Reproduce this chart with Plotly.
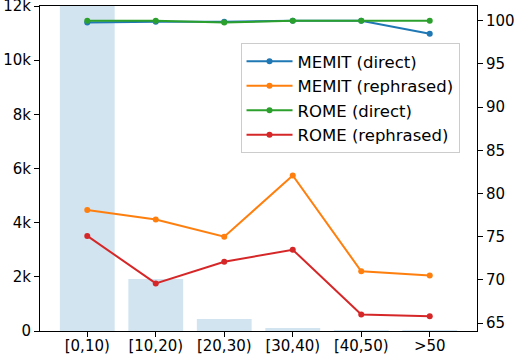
import plotly.graph_objects as go

FONT = "DejaVu Sans"

categories = ["[0,10)", "[10,20)", "[20,30)", "[30,40)", "[40,50)", ">50"]
counts = [13000, 1920, 440, 110, 30, 35]

memit_direct = [99.8, 99.9, 99.9, 100.0, 100.0, 98.5]
memit_rephrased = [78.1, 77.0, 75.0, 82.1, 71.0, 70.5]
rome_direct = [100.0, 100.0, 99.8, 100.0, 100.0, 100.0]
rome_rephrased = [75.1, 69.6, 72.1, 73.5, 66.0, 65.8]

series = [
    ("MEMIT (direct)", memit_direct, "#1f77b4"),
    ("MEMIT (rephrased)", memit_rephrased, "#ff7f0e"),
    ("ROME (direct)", rome_direct, "#2ca02c"),
    ("ROME (rephrased)", rome_rephrased, "#d62728"),
]

count_ticks = [0, 2000, 4000, 6000, 8000, 10000, 12000]
count_labels = ["0", "2k", "4k", "6k", "8k", "10k", "12k"]
score_ticks = [65, 70, 75, 80, 85, 90, 95, 100]

fig = go.Figure()

fig.add_trace(go.Bar(
    x=categories, y=counts,
    marker=dict(color="rgb(210,228,240)", line=dict(width=0)),
    width=0.8, showlegend=False, yaxis="y",
))

for name, vals, color in series:
    fig.add_trace(go.Scatter(
        x=categories, y=vals, name=name, yaxis="y2",
        mode="lines+markers",
        line=dict(color=color, width=2),
        marker=dict(color=color, size=6),
    ))

axis_style = dict(
    showgrid=False, zeroline=False, showline=True, linecolor="black",
    linewidth=1, ticks="outside", ticklen=5, tickcolor="black",
    automargin=False, ticklabeloverflow="allow",
    tickfont=dict(family=FONT, size=15, color="black"),
)

fig.update_layout(
    width=515, height=355,
    margin=dict(l=40, r=38, t=6, b=24),
    plot_bgcolor="white", paper_bgcolor="white",
    bargap=0.2,
    xaxis=dict(range=[-0.69, 5.69], mirror=True, ticklabelstandoff=-4,
               **axis_style),
    yaxis=dict(range=[0, 12000], tickvals=count_ticks, ticktext=count_labels,
               **axis_style),
    yaxis2=dict(range=[64.09, 101.71], tickvals=score_ticks, overlaying="y",
                side="right", **axis_style),
    legend=dict(
        x=0.96, y=0.886, xanchor="right", yanchor="top",
        bgcolor="rgba(255,255,255,0.8)", bordercolor="#cccccc", borderwidth=1,
        itemwidth=46,
        font=dict(family=FONT, size=16.5, color="black"),
    ),
    font=dict(family=FONT),
)

# the page's default body margin would shift the figure by 8px
fig.write_html("out.html", config={"displayModeBar": False},
               post_script="document.body.style.margin = '0';")
